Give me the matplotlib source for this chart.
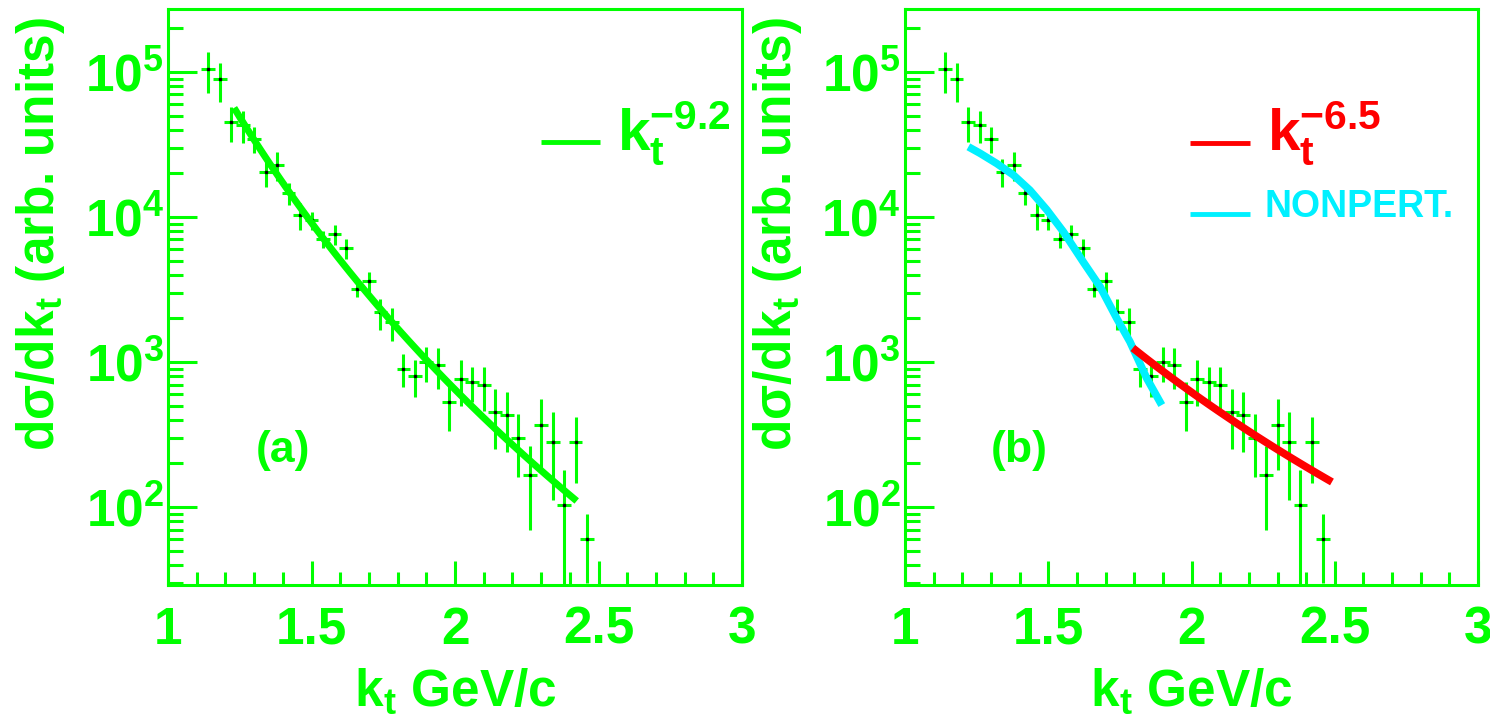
import matplotlib
matplotlib.use("Agg")
import matplotlib.pyplot as plt
import numpy as np

plt.rcParams.update({
    'font.family': 'Liberation Sans', 'font.weight': 'bold',
    'mathtext.default': 'regular',
    'xtick.direction': 'in', 'ytick.direction': 'in',
    'xtick.top': False, 'ytick.right': False,
    'axes.linewidth': 2.2,
})

GREEN = '#00ff00'
CYAN = '#00f0ff'
RED = '#ff0000'

# measured k_t spectrum (bin centres, yield, error)
kt = [1.14, 1.18, 1.22, 1.26, 1.30, 1.34, 1.38, 1.42, 1.46, 1.50, 1.54, 1.58,
      1.62, 1.66, 1.70, 1.74, 1.78, 1.82, 1.86, 1.90, 1.94, 1.98, 2.02, 2.06,
      2.10, 2.14, 2.18, 2.22, 2.26, 2.30, 2.34, 2.38, 2.42, 2.46]
dsig = [1.05e5, 8.9e4, 4.5e4, 4.3e4, 3.45e4, 2.05e4, 2.28e4, 1.47e4, 1.03e4,
        9.5e3, 7.1e3, 7.6e3, 6.1e3, 3.2e3, 3.6e3, 2.2e3, 1.88e3, 9.0e2, 8.0e2,
        1.0e3, 9.5e2, 5.3e2, 7.7e2, 7.3e2, 6.9e2, 4.5e2, 4.3e2, 3.0e2, 1.66e2,
        3.7e2, 2.82e2, 1.03e2, 2.82e2, 6.0e1]
dsig_err = [3.3e4, 2.7e4, 1.2e4, 1.05e4, 7.0e3, 4.5e3, 5.2e3, 2.5e3, 2.2e3,
            1.4e3, 9.5e2, 1.2e3, 1.0e3, 4.0e2, 6.0e2, 5.3e2, 4.9e2, 2.3e2, 2.3e2,
            2.7e2, 3.0e2, 1.95e2, 2.7e2, 2.0e2, 2.3e2, 2.0e2, 1.9e2, 1.4e2, 9.7e1,
            1.9e2, 1.7e2, 7.7e1, 1.36e2, 3.0e1]
bin_half = 0.024

# power-law fits: (exponent, normalisation, k_t range)
fit_a = (9.2, 3.8e5, (1.23, 2.424))
fit_b = (6.5, 5.6e4, (1.795, 2.49))

# non-perturbative curve
nonpert_kt = [1.221, 1.262, 1.320, 1.378, 1.436, 1.495, 1.553, 1.622, 1.681,
              1.739, 1.785, 1.844, 1.896]
nonpert_val = [3.05e4, 2.75e4, 2.34e4, 1.95e4, 1.53e4, 1.12e4, 7.9e3, 4.9e3,
               3.3e3, 2.0e3, 1.38e3, 7.7e2, 5.05e2]

xticks = [1, 1.5, 2, 2.5, 3]
xtick_labels = ['1', '1.5', '2', '2.5', '3']


def power_law(fit):
    expo, norm, (lo, hi) = fit
    x = np.linspace(lo, hi, 60)
    return x, norm * x ** (-expo)


def frame(ax, tag):
    ax.set_yscale('log')
    ax.set_xlim(1, 3)
    ax.set_ylim(29, 2.72e5)
    for s in ax.spines.values():
        s.set_color(GREEN)
    ax.set_xticks(xticks, xtick_labels)
    ax.set_xticks(np.arange(1, 3.001, 0.1), minor=True)
    ax.tick_params(axis='x', which='major', length=17, width=2.2, color=GREEN,
                   labelcolor=GREEN, labelsize=37, pad=15)
    ax.tick_params(axis='x', which='minor', length=9.5, width=2.2, color=GREEN)
    ax.tick_params(axis='y', which='major', length=21, width=2.2, color=GREEN,
                   labelcolor=GREEN, labelsize=37, pad=3)
    ax.tick_params(axis='y', which='minor', length=11, width=2.2, color=GREEN)

    ax.errorbar(kt, dsig, yerr=dsig_err, xerr=bin_half, fmt='none',
                ecolor=GREEN, elinewidth=2.2, capsize=0, zorder=2)
    ax.plot(kt, dsig, ls='none', marker='s', ms=2, color='black', zorder=3)

    ax.text(-0.222, 0.61, r'd$\sigma$/dk$_\mathregular{t}$ (arb. units)', rotation=90,
            ha='center', va='center', transform=ax.transAxes, fontsize=37, color=GREEN)
    ax.text(0.5, -0.185, r'k$_\mathregular{t}$ GeV/c', ha='center', va='center',
            transform=ax.transAxes, fontsize=37, color=GREEN)
    ax.text(1.40, 245, tag, ha='center', va='center', fontsize=32, color=GREEN)


fig = plt.figure(figsize=(14.9, 7.26), dpi=100)
ax_a = fig.add_axes([0.1128, 0.1942, 0.3852, 0.7934])
ax_b = fig.add_axes([0.6074, 0.1942, 0.3846, 0.7934])

frame(ax_a, '(a)')
x, y = power_law(fit_a)
ax_a.plot(x, y, color=GREEN, lw=5, solid_capstyle='butt', zorder=4)
ax_a.plot([0.650, 0.753], [0.769, 0.769], color=GREEN, lw=3.5,
          transform=ax_a.transAxes, solid_capstyle='butt')
ax_a.text(0.782, 0.755, r'$\mathregular{k_t^{-9.2}}$', transform=ax_a.transAxes,
          fontsize=42, color=GREEN, va='baseline')

frame(ax_b, '(b)')
ax_b.plot(nonpert_kt, nonpert_val, color=CYAN, lw=5.5, solid_capstyle='butt',
          solid_joinstyle='round', zorder=4)
x, y = power_law(fit_b)
ax_b.plot(x, y, color=RED, lw=5.5, solid_capstyle='butt', zorder=5)
ax_b.plot([0.497, 0.602], [0.767, 0.767], color=RED, lw=3.5,
          transform=ax_b.transAxes, solid_capstyle='butt')
ax_b.text(0.632, 0.755, r'$\mathregular{k_t^{-6.5}}$', transform=ax_b.transAxes,
          fontsize=42, color=RED, va='baseline')
ax_b.plot([0.497, 0.602], [0.644, 0.644], color=CYAN, lw=3.5,
          transform=ax_b.transAxes, solid_capstyle='butt')
ax_b.text(0.628, 0.639, 'NONPERT.', transform=ax_b.transAxes,
          fontsize=27, color=CYAN, va='baseline')

fig.savefig('out.png', dpi=100, facecolor='white')
